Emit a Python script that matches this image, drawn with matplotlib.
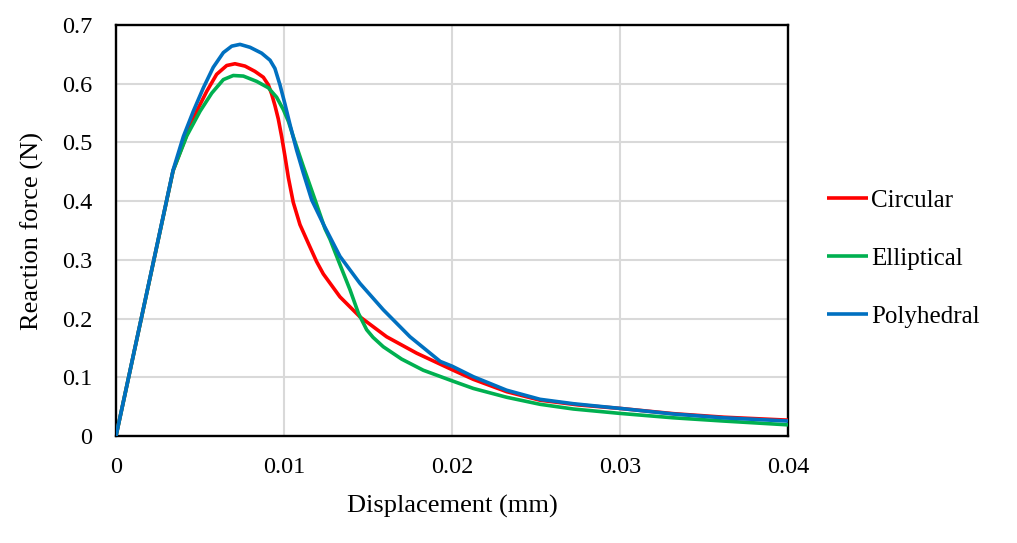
import matplotlib
matplotlib.use("Agg")
import matplotlib.pyplot as plt

plt.rcParams['font.family'] = ['Liberation Serif', 'DejaVu Serif']

# Data (displacement in mm, reaction force in N)
circ_x = [0, 0.0034, 0.00421, 0.0048, 0.0054, 0.00599, 0.00659, 0.00708, 0.00768,
          0.00827, 0.00877, 0.00907, 0.00927, 0.00946, 0.00966, 0.00986, 0.01006,
          0.01026, 0.01055, 0.01095, 0.01145, 0.01194, 0.01234, 0.01333, 0.01452,
          0.01611, 0.0179, 0.0200, 0.02127, 0.02325, 0.02524, 0.0275, 0.0300,
          0.0332, 0.0362, 0.0400]
circ_y = [0, 0.452, 0.513, 0.553, 0.587, 0.616, 0.631, 0.634, 0.630,
          0.621, 0.611, 0.598, 0.582, 0.563, 0.540, 0.510, 0.476,
          0.440, 0.398, 0.360, 0.328, 0.297, 0.276, 0.237, 0.203,
          0.169, 0.141, 0.113, 0.0965, 0.0755, 0.061, 0.053, 0.047,
          0.038, 0.032, 0.027]

ell_x = [0, 0.0034, 0.00421, 0.0050, 0.0057, 0.00639, 0.00698, 0.00758, 0.00837,
         0.00907, 0.00956, 0.00996, 0.01026, 0.01055, 0.01115, 0.01185, 0.01244,
         0.01274, 0.01304, 0.01333, 0.01393, 0.01443, 0.01492, 0.0153, 0.01591,
         0.0170, 0.01829, 0.0200, 0.02127, 0.02325, 0.02524, 0.02722, 0.0300,
         0.03317, 0.03615, 0.0400]
ell_y = [0, 0.452, 0.511, 0.553, 0.584, 0.607, 0.614, 0.613, 0.604,
         0.593, 0.577, 0.556, 0.536, 0.510, 0.459, 0.402, 0.353,
         0.335, 0.313, 0.292, 0.249, 0.209, 0.181, 0.168, 0.152,
         0.131, 0.112, 0.094, 0.081, 0.066, 0.054, 0.046, 0.0385,
         0.031, 0.0255, 0.019]

poly_x = [0, 0.0034, 0.00401, 0.0046, 0.0052, 0.00579, 0.00639, 0.00689, 0.00738,
          0.00798, 0.00867, 0.00917, 0.00946, 0.00976, 0.01006, 0.01036, 0.01075,
          0.01115, 0.01165, 0.01234, 0.01333, 0.01452, 0.01591, 0.0175, 0.0193,
          0.0200, 0.02127, 0.02325, 0.02524, 0.02722, 0.0300, 0.03317, 0.03615,
          0.0400]
poly_y = [0, 0.453, 0.510, 0.553, 0.593, 0.628, 0.653, 0.664, 0.667,
          0.662, 0.652, 0.640, 0.626, 0.598, 0.565, 0.530, 0.487,
          0.448, 0.402, 0.361, 0.306, 0.260, 0.215, 0.169, 0.127,
          0.119, 0.101, 0.078, 0.0625, 0.055, 0.047, 0.0375, 0.031,
          0.0255]

series_names = ['Circular', 'Elliptical', 'Polyhedral']
series_colors = ['#FF0000', '#00B050', '#0070C0']
x_ticks = [0, 0.01, 0.02, 0.03, 0.04]
x_tick_labels = ['0', '0.01', '0.02', '0.03', '0.04']
y_ticks = [0, 0.1, 0.2, 0.3, 0.4, 0.5, 0.6, 0.7]
y_tick_labels = ['0', '0.1', '0.2', '0.3', '0.4', '0.5', '0.6', '0.7']

fig = plt.figure(figsize=(10.17, 5.43), dpi=100)
ax = fig.add_axes([116/1017, 1-436/543, (788-116)/1017, (436-25)/543])

for xs, ys, name, col in zip([circ_x, ell_x, poly_x], [circ_y, ell_y, poly_y],
                             series_names, series_colors):
    ax.plot(xs, ys, color=col, lw=2.6, label=name, solid_joinstyle='round',
            solid_capstyle='butt', zorder=3)

ax.set_xlim(0, 0.04)
ax.set_ylim(0, 0.7)
ax.set_xticks(x_ticks)
ax.set_xticklabels(x_tick_labels)
ax.set_yticks(y_ticks)
ax.set_yticklabels(y_tick_labels)
ax.tick_params(axis='both', length=0, labelsize=17.5)
ax.tick_params(axis='x', pad=15)
ax.tick_params(axis='y', pad=17)
ax.grid(True, color='#D9D9D9', lw=1.5, zorder=0)
ax.set_axisbelow(True)
for s in ax.spines.values():
    s.set_color('black')
    s.set_linewidth(1.7)

ax.set_xlabel('Displacement (mm)', fontsize=19, labelpad=12)
ax.set_ylabel('Reaction force (N)', fontsize=19, labelpad=13)

fig.legend(loc='center left', bbox_to_anchor=(827/1017, 1-258.5/543), frameon=False,
           fontsize=18, handlelength=1.64, handletextpad=0.12, labelspacing=1.42,
           borderaxespad=0, borderpad=0)

fig.savefig('out.png', dpi=100)
